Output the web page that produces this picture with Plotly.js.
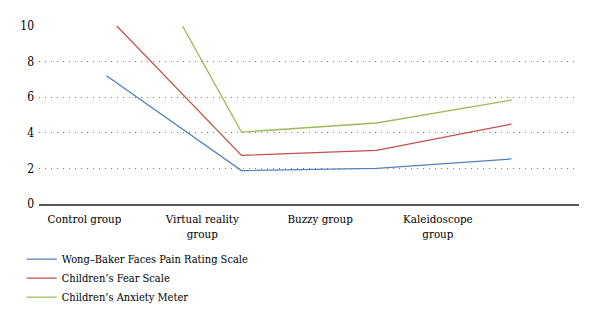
<!DOCTYPE html>
<html>
<head>
<meta charset="utf-8">
<script src="https://cdn.plot.ly/plotly-3.0.1.min.js"></script>
<style>html,body{margin:0;padding:0;background:#fff;}#chart{width:600px;height:323px;}</style>
</head>
<body>
<div id="chart"></div>
<script>
var categories = ["Control group", "Virtual reality group", "Buzzy group", "Kaleidoscope group"];
var tickLabels = ["Control group", "Virtual reality<br>group", "Buzzy group", "Kaleidoscope<br>group"];
var seriesNames = ["Wong\u2013Baker Faces Pain Rating Scale", "Children\u2019s Fear Scale", "Children\u2019s Anxiety Meter"];
var wongBaker = [7.2, 1.88, 2.0, 2.53];
var fearScale = [10.6, 2.73, 3.01, 4.49];
var anxietyMeter = [17.7, 4.04, 4.55, 5.84];
var colors = ["#4F81BD", "#C0504D", "#9BBB59"];
var yTicks = [0, 2, 4, 6, 8, 10];

var font = "DejaVu Serif Condensed, DejaVu Serif, serif";
var seriesValues = [wongBaker, fearScale, anxietyMeter];
var traces = seriesValues.map(function (vals, i) {
  return {
    type: "scatter", mode: "lines", x: categories, y: vals, name: seriesNames[i],
    line: {color: colors[i], width: 1.3}, xaxis: "x", yaxis: "y", hoverinfo: "skip"
  };
});
traces.push({
  type: "scatter", mode: "markers", x: [0, 1, 2, 3], y: [null, null, null, null],
  xaxis: "x2", yaxis: "y", showlegend: false, hoverinfo: "skip", marker: {opacity: 0}
});

var layout = {
  width: 600, height: 323,
  margin: {l: 39, r: 21, t: 26, b: 118.5, autoexpand: false},
  paper_bgcolor: "#fff", plot_bgcolor: "#fff",
  font: {family: font, size: 11.5, color: "#000"},
  showlegend: true,
  legend: {
    x: -0.032, y: -0.228, xanchor: "left", yanchor: "top", orientation: "v",
    font: {family: font, size: 11, color: "#000"}, bgcolor: "rgba(0,0,0,0)"
  },
  xaxis: {
    type: "category", categoryarray: categories, range: [-0.5, 3.5],
    showticklabels: false, showgrid: false, zeroline: false,
    showline: false, ticks: "", automargin: false
  },
  xaxis2: {
    type: "linear", overlaying: "x", anchor: "y", side: "bottom", automargin: false,
    range: [-0.386, 4.198], tickmode: "array", tickvals: [0, 1, 2, 3], ticktext: tickLabels,
    showgrid: false, zeroline: false, showline: true, linecolor: "#595959", linewidth: 2,
    ticks: "", ticklabelstandoff: 3, tickfont: {family: font, size: 11.5, color: "#000"}
  },
  yaxis: {
    range: [0, 10], tickmode: "array", tickvals: yTicks, ticks: "", automargin: false,
    showgrid: true, gridcolor: "#7f7f7f", gridwidth: 1, griddash: "1px,5px",
    zeroline: false, showline: false, ticklabelstandoff: 4,
    tickfont: {family: font, size: 12, color: "#000"}
  }
};

Plotly.newPlot("chart", traces, layout, {displayModeBar: false, staticPlot: true});
</script>
</body>
</html>
